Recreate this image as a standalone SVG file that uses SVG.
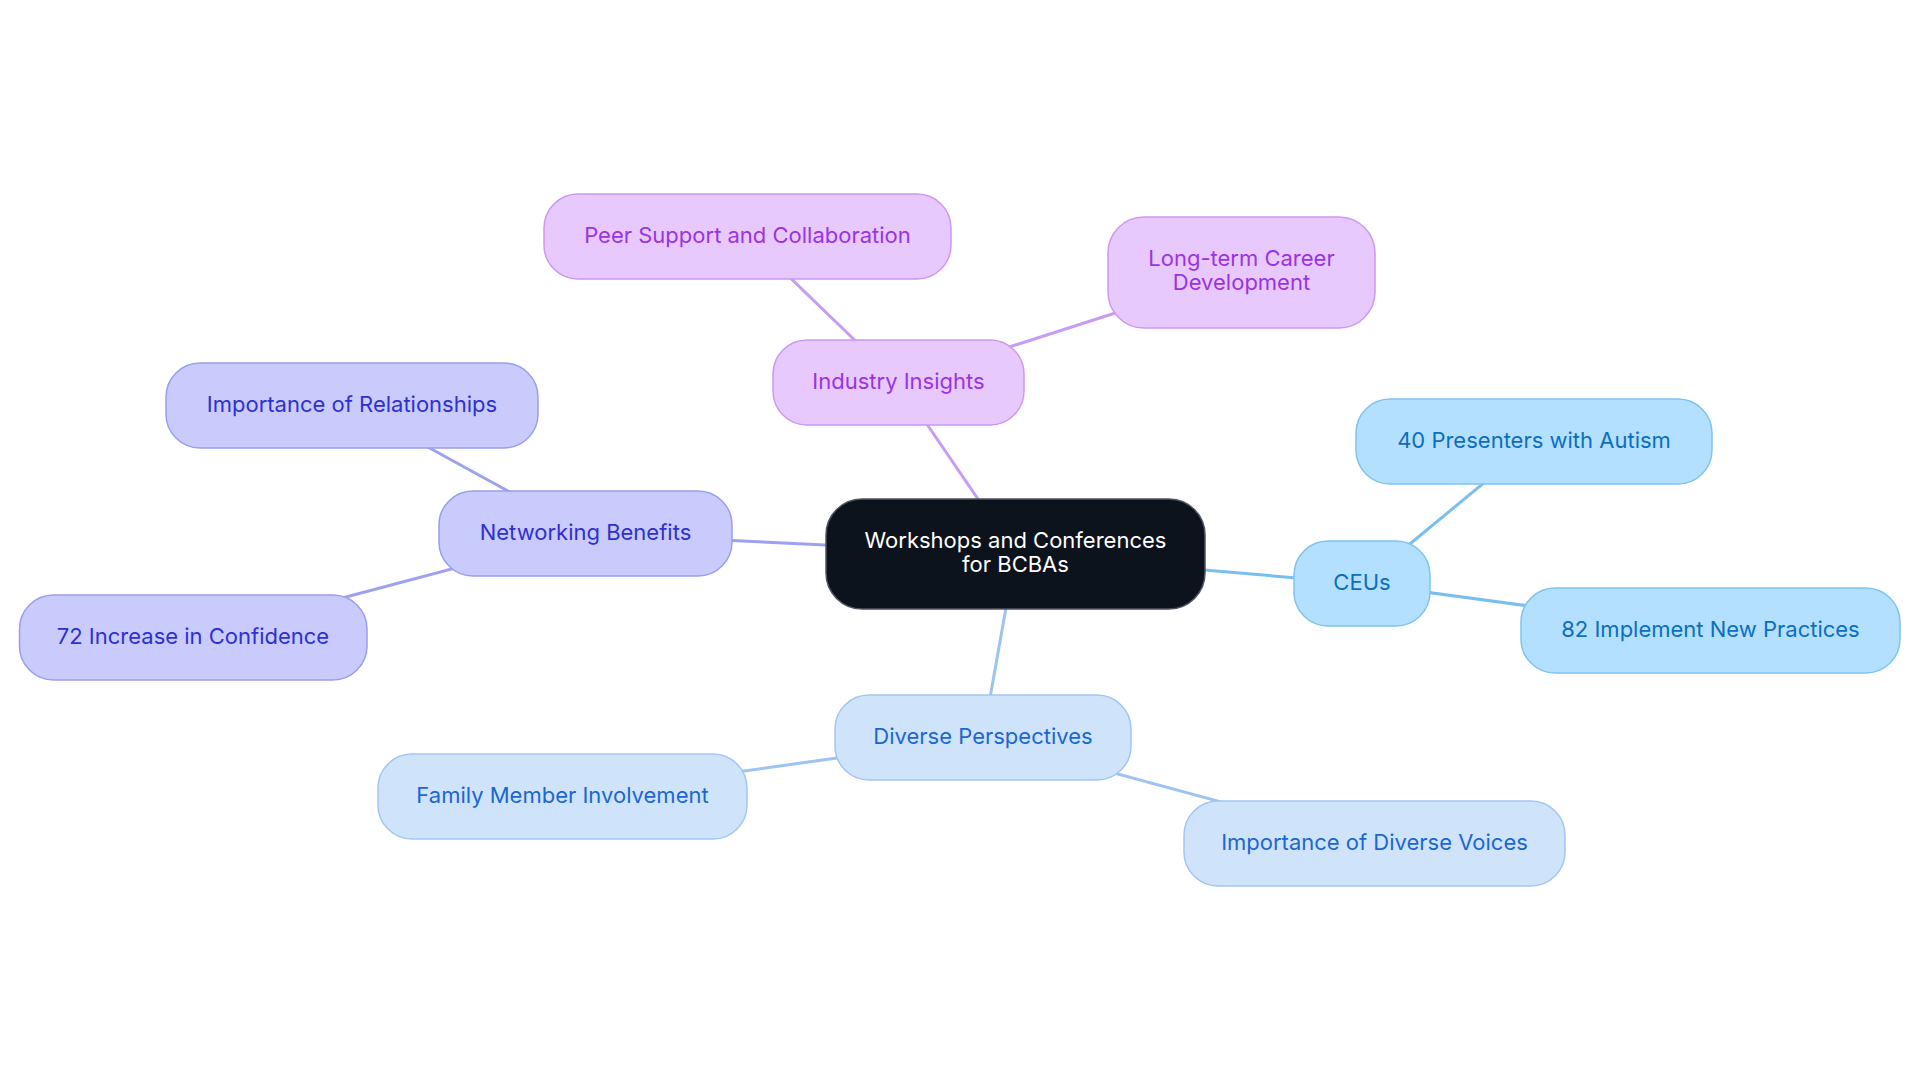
<svg xmlns="http://www.w3.org/2000/svg" width="1920" height="1083" viewBox="0 0 1920 1083">
<style>
text{font-family:Inter,"Noto Sans","Liberation Sans",sans-serif;font-size:22px;text-anchor:middle}
.n rect{stroke-width:1.5}
.root rect{fill:#0d131c;stroke:#50555d}
.root text{fill:#ffffff}
.pu rect{fill:#e7c9fd;stroke:#cc98f2}
.pu text{fill:#9a33e4}
.in rect{fill:#c9cbfd;stroke:#9a9df0}
.in text{fill:#2f2fd2}
.ce rect{fill:#b3e0fe;stroke:#7fc3f1}
.ce text{fill:#0d6ebf}
.dv rect{fill:#cfe3fb;stroke:#a2c6f3}
.dv text{fill:#1b67d2}
.e line{stroke-width:3;stroke-linecap:round}
.epu{stroke:#c79cf5}
.ein{stroke:#9ea0f1}
.ece{stroke:#78bef0}
.edv{stroke:#9cc3f2}
</style>
<rect width="1920" height="1083" fill="#ffffff"/>
<g id="connectors" class="e">
<line class="epu" x1="1015.5" y1="554" x2="898.5" y2="382.5"/>
<line class="epu" x1="898.5" y1="382.5" x2="747.5" y2="236.5"/>
<line class="epu" x1="898.5" y1="382.5" x2="1241.5" y2="272.5"/>
<line class="ein" x1="1015.5" y1="554" x2="585.5" y2="533.5"/>
<line class="ein" x1="585.5" y1="533.5" x2="352" y2="405.5"/>
<line class="ein" x1="585.5" y1="533.5" x2="193" y2="637.5"/>
<line class="ece" x1="1015.5" y1="554" x2="1362" y2="583.5"/>
<line class="ece" x1="1362" y1="583.5" x2="1534" y2="441.5"/>
<line class="ece" x1="1362" y1="583.5" x2="1710.5" y2="630.5"/>
<line class="edv" x1="1015.5" y1="554" x2="983" y2="737.5"/>
<line class="edv" x1="983" y1="737.5" x2="562.5" y2="796.5"/>
<line class="edv" x1="983" y1="737.5" x2="1374.5" y2="843.5"/>
</g>
<g id="root" class="n root">
<rect x="826" y="499" width="379" height="110" rx="36"/>
<text x="1015.5" y="548">Workshops and Conferences</text>
<text x="1015.5" y="572">for BCBAs</text>
</g>
<g id="industry-insights" class="n pu">
<rect x="773" y="340" width="251" height="85" rx="34"/>
<text x="898.5" y="388.5">Industry Insights</text>
</g>
<g id="peer-support" class="n pu">
<rect x="544" y="194" width="407" height="85" rx="34"/>
<text x="747.5" y="242.5">Peer Support and Collaboration</text>
</g>
<g id="long-term-career" class="n pu">
<rect x="1108" y="217" width="267" height="111" rx="36"/>
<text x="1241.5" y="266">Long-term Career</text>
<text x="1241.5" y="290">Development</text>
</g>
<g id="networking-benefits" class="n in">
<rect x="439" y="491" width="293" height="85" rx="34"/>
<text x="585.5" y="539.5">Networking Benefits</text>
</g>
<g id="importance-relationships" class="n in">
<rect x="166" y="363" width="372" height="85" rx="34"/>
<text x="352" y="411.5">Importance of Relationships</text>
</g>
<g id="increase-confidence" class="n in">
<rect x="19.5" y="595" width="347.5" height="85" rx="34"/>
<text x="193" y="643.5">72 Increase in Confidence</text>
</g>
<g id="ceus" class="n ce">
<rect x="1294" y="541" width="136" height="85" rx="34"/>
<text x="1362" y="589.5">CEUs</text>
</g>
<g id="presenters-autism" class="n ce">
<rect x="1356" y="399" width="356" height="85" rx="34"/>
<text x="1534" y="447.5">40 Presenters with Autism</text>
</g>
<g id="implement-practices" class="n ce">
<rect x="1521" y="588" width="379" height="85" rx="34"/>
<text x="1710.5" y="636.5">82 Implement New Practices</text>
</g>
<g id="diverse-perspectives" class="n dv">
<rect x="835" y="695" width="296" height="85" rx="34"/>
<text x="983" y="743.5">Diverse Perspectives</text>
</g>
<g id="family-involvement" class="n dv">
<rect x="378" y="754" width="369" height="85" rx="34"/>
<text x="562.5" y="802.5">Family Member Involvement</text>
</g>
<g id="diverse-voices" class="n dv">
<rect x="1184" y="801" width="381" height="85" rx="34"/>
<text x="1374.5" y="849.5">Importance of Diverse Voices</text>
</g>
</svg>
